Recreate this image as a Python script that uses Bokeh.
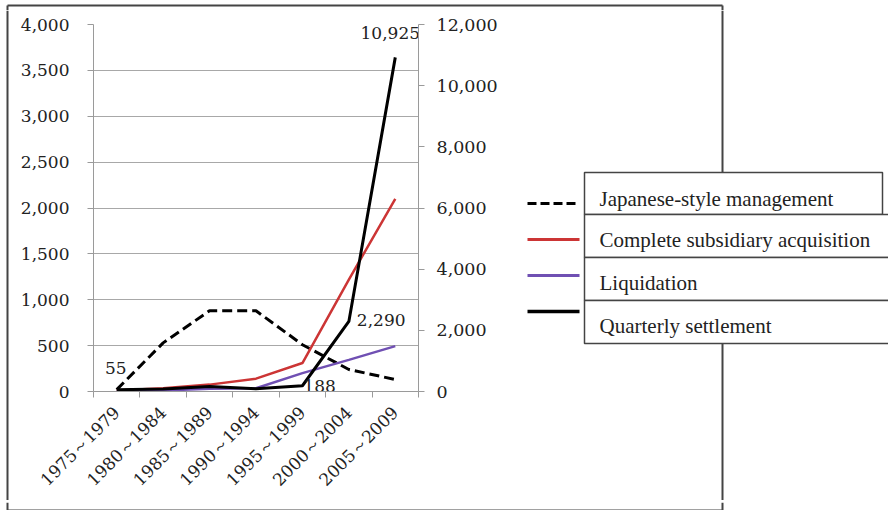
from math import pi
from bokeh.plotting import figure
from bokeh.layouts import row, column
from bokeh.models import (LinearAxis, Range1d, FixedTicker, NumeralTickFormatter,
                          ColumnDataSource)
from bokeh.core.properties import value
from bokeh.embed import file_html
from bokeh.resources import INLINE

# ---------------- data ----------------
categories = ["1975～1979", "1980～1984", "1985～1989", "1990～1994",
              "1995～1999", "2000～2004", "2005～2009"]
japanese_style = [20, 530, 880, 880, 510, 240, 130]          # left axis
subsidiary_acq = [10, 35, 75, 140, 310, 1220, 2100]          # left axis
liquidation = [0, 10, 30, 35, 200, 345, 495]                  # left axis
quarterly = [55, 80, 160, 90, 188, 2290, 10925]              # right axis
quarterly_labels = ["55", "", "", "", "188", "2,290", "10,925"]
series_names = ["Japanese-style management", "Complete subsidiary acquisition",
                "Liquidation", "Quarterly settlement"]
left_ticks = [0, 500, 1000, 1500, 2000, 2500, 3000, 3500, 4000]
right_ticks = [0, 2000, 4000, 6000, 8000, 10000, 12000]

NUM_FONT = "DejaVu Serif"
GRAY = "#9a9a9a"
TXT = "#222222"
BORDER = "#444444"
RED = "#cc3535"
PURPLE = "#7050b3"

xs = [i + 0.5 for i in range(len(categories))]

TOTAL_W, TOTAL_H = 888, 510
TOP_H, BOT_H = 10, 10
MID_H = TOTAL_H - TOP_H - BOT_H
LEFT_W = 9
MAIN_W = 510
LEG_W = TOTAL_W - LEFT_W - MAIN_W
BORDER_X = 722      # right edge of the outer box
BORDER_L = 7        # left edge of the outer box
BORDER_B = 508      # bottom edge of the outer box


def blank(w, h):
    f = figure(width=w, height=h, output_backend="svg", toolbar_location=None,
               x_range=Range1d(0, w), y_range=Range1d(h, 0),
               x_axis_location=None, y_axis_location=None,
               min_border=0, min_border_left=0, min_border_right=0,
               min_border_top=0, min_border_bottom=0, frame_align=False)
    f.outline_line_color = None
    f.background_fill_color = "white"
    f.border_fill_color = "white"
    f.xgrid.visible = False
    f.ygrid.visible = False
    return f


# ---------------- main chart ----------------
p = figure(width=MAIN_W, height=MID_H, output_backend="svg", toolbar_location=None,
           x_range=Range1d(0, len(categories)), y_range=Range1d(0, 4000),
           min_border_left=93 - LEFT_W, min_border_top=24 - TOP_H,
           min_border_right=LEFT_W + MAIN_W - 418,
           min_border_bottom=MID_H - (24 - TOP_H) - 367, frame_align=False)
p.outline_line_color = None
p.background_fill_color = "white"
p.border_fill_color = "white"
p.xgrid.grid_line_color = None
p.ygrid.grid_line_color = "#a8a8a8"
p.ygrid.grid_line_width = 1.2
p.ygrid.ticker = FixedTicker(ticks=left_ticks)

ya = p.yaxis[0]
ya.ticker = FixedTicker(ticks=left_ticks)
ya.formatter = NumeralTickFormatter(format="0,0")
ya.axis_line_color = GRAY
ya.major_tick_line_color = GRAY
ya.major_tick_out = 6
ya.major_tick_in = 0
ya.minor_tick_line_color = None
ya.major_label_standoff = 18
ya.major_label_text_font = NUM_FONT
ya.major_label_text_font_size = "17px"
ya.major_label_text_color = TXT

p.extra_y_ranges = {"right": Range1d(0, 12000)}
ra = LinearAxis(y_range_name="right", ticker=FixedTicker(ticks=right_ticks),
                formatter=NumeralTickFormatter(format="0,0"))
ra.axis_line_color = GRAY
ra.major_tick_line_color = GRAY
ra.major_tick_out = 6
ra.major_tick_in = 0
ra.minor_tick_line_color = None
ra.major_label_standoff = 12
ra.major_label_text_font = NUM_FONT
ra.major_label_text_font_size = "17.5px"
ra.major_label_text_color = TXT
p.add_layout(ra, "right")

xa = p.xaxis[0]
xa.ticker = FixedTicker(ticks=xs, minor_ticks=list(range(len(categories) + 1)))
xa.major_label_overrides = {x: c for x, c in zip(xs, categories)}
xa.major_tick_line_color = None
xa.major_tick_out = 0
xa.major_tick_in = 0
xa.minor_tick_line_color = GRAY
xa.minor_tick_out = 6
xa.minor_tick_in = 0
xa.axis_line_color = GRAY
xa.major_label_orientation = pi / 4
xa.major_label_standoff = 12
xa.major_label_text_font = NUM_FONT
xa.major_label_text_font_size = "17px"
xa.major_label_text_color = TXT

p.line(xs, japanese_style, line_color="black", line_width=3, line_dash="10 5")
p.line(xs, subsidiary_acq, line_color=RED, line_width=2.5)
p.line(xs, liquidation, line_color=PURPLE, line_width=2.5)
p.line(xs, quarterly, line_color="black", line_width=3, y_range_name="right")

lab_src = ColumnDataSource(dict(
    x=xs, y=quarterly, t=quarterly_labels,
    dx=[-1, 0, 0, 0, 1, 8, -5],
    dy=[-22, 0, 0, 0, 6, -1, -24],
    al=["center", "left", "left", "left", "left", "left", "center"],
    bl=["middle", "middle", "middle", "middle", "bottom", "middle", "middle"]))
p.text(x="x", y="y", text="t", x_offset="dx", y_offset="dy", text_align="al",
       text_baseline="bl", text_font=value(NUM_FONT), text_font_size="17px",
       text_color=TXT, source=lab_src, y_range_name="right")

# ---------------- outer box pieces ----------------
top = blank(TOTAL_W, TOP_H)
top.line([BORDER_L, BORDER_X], [3, 3], line_color=BORDER, line_width=2)
top.line([BORDER_L, BORDER_L], [3, TOP_H], line_color=BORDER, line_width=2)
top.line([BORDER_X, BORDER_X], [3, TOP_H], line_color=BORDER, line_width=2)

by = BORDER_B - (TOP_H + MID_H)
bottom = blank(TOTAL_W, BOT_H)
bottom.line([BORDER_L, BORDER_X], [by, by], line_color=BORDER, line_width=2)
bottom.line([BORDER_L, BORDER_L], [0, by], line_color=BORDER, line_width=2)
bottom.line([BORDER_X, BORDER_X], [0, by], line_color=BORDER, line_width=2)

left = blank(LEFT_W, MID_H)
left.line([BORDER_L, BORDER_L], [0, MID_H], line_color=BORDER, line_width=2)

# ---------------- legend panel ----------------
leg = blank(LEG_W, MID_H)
ox, oy = LEFT_W + MAIN_W, TOP_H
leg.line([BORDER_X - ox, BORDER_X - ox], [0, MID_H], line_color=BORDER, line_width=2)

row_edges = [172, 214, 257, 300, 343]
row_right = [882, 900, 900, 900]
line_y = [203, 239, 275, 311]
text_y = [198, 239, 282, 325]
leg.quad(left=[584 - ox] * 4, right=[r - ox for r in row_right],
         top=[e - oy for e in row_edges[:-1]], bottom=[e - oy for e in row_edges[1:]],
         fill_color="white", line_color=BORDER, line_width=1.5)
styles = [dict(line_color="black", line_width=3, line_dash="9 4"),
          dict(line_color=RED, line_width=3),
          dict(line_color=PURPLE, line_width=3),
          dict(line_color="black", line_width=3.5)]
for i in range(len(series_names)):
    leg.line([527 - ox, 579 - ox], [line_y[i] - oy, line_y[i] - oy], **styles[i])
leg.text(x=[599 - ox] * 4, y=[t - oy for t in text_y], text=series_names,
         text_baseline="middle", text_align="left",
         text_font=value("Liberation Serif"), text_font_size="21px", text_color=TXT)

layout = column(top, row(left, p, leg, spacing=0), bottom, spacing=0)
open("out.html", "w").write(file_html(layout, INLINE))
